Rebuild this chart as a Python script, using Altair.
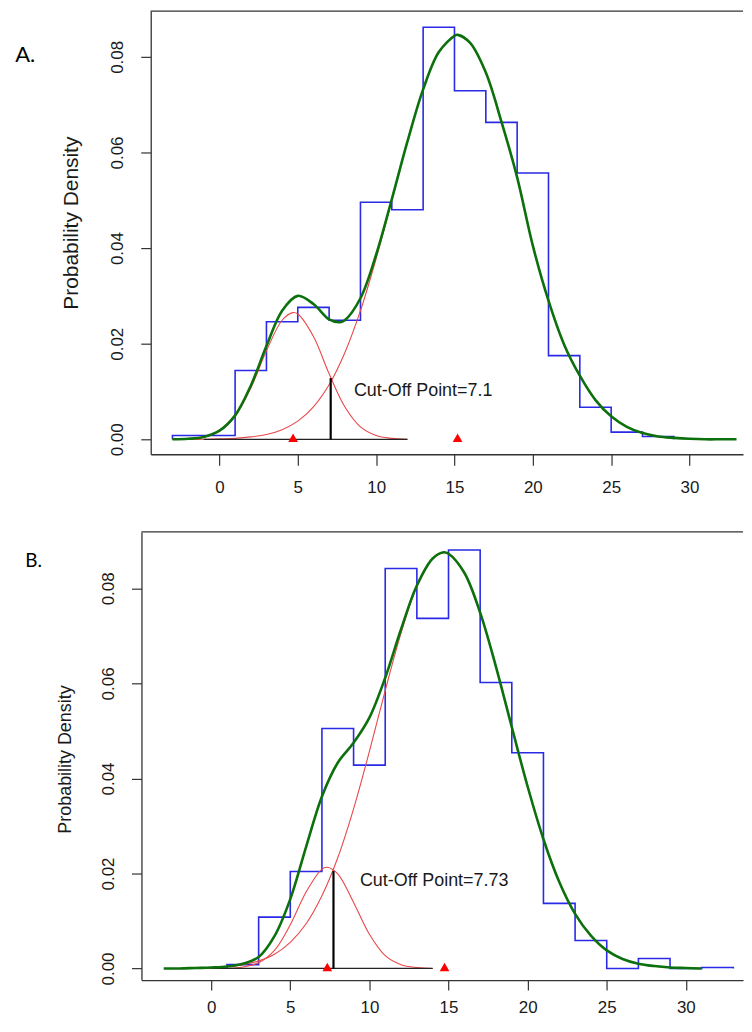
import altair as alt
import pandas as pd

FONT = "Liberation Sans"
X_TICKS = [0, 5, 10, 15, 20, 25, 30]
Y_TICKS = [0.0, 0.02, 0.04, 0.06, 0.08]

# ---------------- Panel A ----------------
A_edges = [-3, -1, 1, 3, 5, 7, 9, 11, 13, 15, 17, 19, 21, 23, 25, 27, 29]
A_hist = [0.0008, 0.0008, 0.0144, 0.0246, 0.0276, 0.0249, 0.0496, 0.0480,
          0.0862, 0.0729, 0.0663, 0.0557, 0.0175, 0.0067, 0.0015, 0.0006]
A_c1_x = [-3, -2, -1, 0, 1, 2, 3, 4, 4.7, 5, 6, 7, 8, 9, 10, 11, 12]
A_c1_y = [0.0000, 0.0001, 0.0005, 0.0017, 0.0048, 0.0107, 0.0185, 0.0249, 0.0265,
          0.0262, 0.0215, 0.0137, 0.0068, 0.0026, 0.0008, 0.0002, 0.0000]
A_c2_x = [-3, -2, -1, 0, 1, 2, 3, 4, 5, 6, 7, 8, 9, 10, 11, 12, 13, 14, 15, 15.2,
          16, 17, 18, 19, 20, 21, 22, 23, 24, 25, 26, 27, 28, 29, 30, 31]
A_c2_y = [0.0000, 0.0000, 0.0000, 0.0001, 0.0002, 0.0005, 0.0010, 0.0020, 0.0038,
          0.0068, 0.0114, 0.0181, 0.0269, 0.0378, 0.0500, 0.0623, 0.0732, 0.0810,
          0.0844, 0.0846, 0.0829, 0.0767, 0.0664, 0.0548, 0.0405, 0.0290, 0.0198,
          0.0133, 0.0082, 0.0048, 0.0026, 0.0013, 0.0006, 0.0003, 0.0001, 0.0000]
A_mix_x = [-3, -2, -1, 0, 1, 2, 3, 4, 5, 6, 7, 7.7, 8, 9, 10, 11, 12, 13, 14, 15,
           15.2, 16, 17, 18, 19, 20, 21, 22, 23, 24, 25, 26, 27, 28, 29, 30, 31, 32, 33]
A_mix_y = [0.0000, 0.0001, 0.0005, 0.0018, 0.0050, 0.0112, 0.0195, 0.0269, 0.0300,
           0.0283, 0.0251, 0.0245, 0.0249, 0.0295, 0.0386, 0.0502, 0.0623, 0.0732,
           0.0810, 0.0844, 0.0846, 0.0829, 0.0767, 0.0664, 0.0548, 0.0405, 0.0290,
           0.0198, 0.0133, 0.0082, 0.0048, 0.0026, 0.0013, 0.0006, 0.0003, 0.0001,
           0.0000, 0.0000, 0.0000]
A_cut = [7.1, 0.0128]
A_means = [4.7, 15.2]
A_base = [-1, 12]
A_label = ["Cut-Off Point=7.1", 8.58, 0.0091]

# ---------------- Panel B ----------------
B_edges = [1, 3, 5, 7, 9, 11, 13, 15, 17, 19, 21, 23, 25, 27, 29, 31, 33]
B_hist = [0.0008, 0.0108, 0.0204, 0.0505, 0.0428, 0.0842, 0.0737, 0.0881,
          0.0602, 0.0454, 0.0137, 0.0059, 0.0000, 0.0021, 0.0000, 0.0002]
B_c1_x = [-1, 0, 1, 2, 3, 4, 5, 6, 7, 7.34, 8, 9, 10, 11, 12, 13, 14]
B_c1_y = [0.0000, 0.0000, 0.0000, 0.0003, 0.0012, 0.0038, 0.0092, 0.0161, 0.0209,
          0.0213, 0.0199, 0.0139, 0.0072, 0.0027, 0.0008, 0.0002, 0.0000]
B_c2_x = [-1, 0, 1, 2, 3, 4, 5, 6, 7, 8, 9, 10, 11, 12, 13, 14, 14.7, 15, 16, 17,
          18, 19, 20, 21, 22, 23, 24, 25, 26, 27, 28, 29, 30, 31]
B_c2_y = [0.0001, 0.0002, 0.0004, 0.0008, 0.0016, 0.0030, 0.0055, 0.0094, 0.0153,
          0.0233, 0.0336, 0.0457, 0.0585, 0.0706, 0.0804, 0.0863, 0.0875, 0.0873,
          0.0833, 0.0749, 0.0635, 0.0508, 0.0383, 0.0272, 0.0182, 0.0115, 0.0069,
          0.0038, 0.0020, 0.0010, 0.0005, 0.0002, 0.0001, 0.0000]
B_mix_x = [-3, -2, -1, 0, 1, 2, 3, 4, 5, 6, 7, 8, 9, 10, 11, 12, 13, 14, 14.7, 15,
           16, 17, 18, 19, 20, 21, 22, 23, 24, 25, 26, 27, 28, 29, 30, 31]
B_mix_y = [0.0000, 0.0000, 0.0001, 0.0002, 0.0004, 0.0010, 0.0024, 0.0068, 0.0146,
           0.0256, 0.0362, 0.0433, 0.0475, 0.0528, 0.0612, 0.0714, 0.0806, 0.0863,
           0.0876, 0.0873, 0.0833, 0.0749, 0.0635, 0.0508, 0.0383, 0.0272, 0.0182,
           0.0115, 0.0069, 0.0038, 0.0020, 0.0010, 0.0005, 0.0002, 0.0001, 0.0000]
B_cut = [7.73, 0.0205]
B_means = [7.34, 14.75]
B_base = [0, 14]
B_label = ["Cut-Off Point=7.73", 9.40, 0.0173]


def line_df(xs, ys):
    return pd.DataFrame({"x": xs, "y": ys, "i": list(range(len(xs)))})


def hist_df(edges, heights):
    xs = [edges[0]] + edges[:-1] + [edges[-1]]
    ys = [0.0] + heights + [0.0]
    return line_df(xs, ys)


def panel(edges, hist, c1x, c1y, c2x, c2y, mx, my, cut, means, base, label,
          tag, tag_size, tag_xy, xdom, ydom, box_left, width, height, yoff, title_size,
          title_y, title_pad, dash, x_tick, x_pad):
    xs = alt.Scale(domain=xdom, nice=False, zero=False)
    ys = alt.Scale(domain=ydom, nice=False, zero=False)

    bkw = dict(values=X_TICKS, format="d", tickSize=x_tick, labelPadding=x_pad,
               labelFontSize=17, title=None, orient="bottom")
    if dash:
        bkw["domainDash"] = dash
    ykw = dict(values=Y_TICKS, format=".2f", labelAngle=270, labelAlign="center",
               labelBaseline="bottom", tickSize=10, labelPadding=14, labelFontSize=17,
               title="Probability Density", titleFontSize=title_size,
               titleFontWeight="normal", titlePadding=title_pad, offset=yoff,
               orient="left", titleY=title_y)
    XA = alt.Axis(**bkw)
    YA = alt.Axis(**ykw)

    def X(field):
        return alt.X(field, scale=xs, axis=XA)

    def Y(field):
        return alt.Y(field, scale=ys, axis=YA)

    hist_layer = alt.Chart(hist_df(edges, hist)).mark_line(
        interpolate="step-after", color="#2a2ae6", strokeWidth=1.6
    ).encode(x=X("x:Q"), y=Y("y:Q"), order="i:Q")

    def curve(xv, yv, color, width_):
        return alt.Chart(line_df(xv, yv)).mark_line(
            interpolate="catmull-rom", color=color, strokeWidth=width_
        ).encode(x=X("x:Q"), y=Y("y:Q"), order="i:Q")

    red1 = curve(c1x, c1y, "#e8484a", 1.1)
    red2 = curve(c2x, c2y, "#e8484a", 1.1)
    green = curve(mx, my, "#0c700c", 2.6)

    base_layer = alt.Chart(pd.DataFrame({"x0": [base[0]], "x1": [base[1]], "y": [0.0]})).mark_rule(
        color="#222222", strokeWidth=1.2
    ).encode(x=X("x0:Q"), x2="x1:Q", y=Y("y:Q"))

    top_layer = alt.Chart(pd.DataFrame({"x0": [box_left], "x1": [xdom[1]], "y": [ydom[1]]})).mark_rule(
        color="#333333", strokeWidth=1.3
    ).encode(x=X("x0:Q"), x2="x1:Q", y=Y("y:Q"))

    cut_layer = alt.Chart(pd.DataFrame({"x": [cut[0]], "y0": [0.0], "y1": [cut[1]]})).mark_rule(
        color="black", strokeWidth=2.2
    ).encode(x=X("x:Q"), y=Y("y0:Q"), y2="y1:Q")

    tri = alt.Chart(pd.DataFrame({"x": means, "y": [0.0] * len(means)})).mark_point(
        shape="triangle-up", filled=True, size=95, color="#ff0000", opacity=1, yOffset=-1.5
    ).encode(x=X("x:Q"), y=Y("y:Q"))

    txt = alt.Chart(pd.DataFrame({"t": [label[0]], "x": [label[1]], "y": [label[2]]})).mark_text(
        align="left", baseline="alphabetic", fontSize=18, font=FONT, color="#1a1a1a"
    ).encode(x=X("x:Q"), y=Y("y:Q"), text="t:N")

    tag_layer = alt.Chart(pd.DataFrame({"t": [tag]})).mark_text(
        align="left", baseline="alphabetic", fontSize=tag_size, font="Lato", color="black"
    ).encode(x=alt.value(tag_xy[0]), y=alt.value(tag_xy[1]), text="t:N")

    return alt.layer(hist_layer, red1, red2, base_layer, green, cut_layer, tri, txt,
                     top_layer, tag_layer).properties(width=width, height=height)


# Panel A: 15.733 px per unit; 0.00 at 438 px, 96 px per 0.02
panel_a = panel(A_edges, A_hist, A_c1_x, A_c1_y, A_c2_x, A_c2_y, A_mix_x, A_mix_y,
                A_cut, A_means, A_base, A_label, "A.", 22, [-126.7, 51.3],
                [-4.977, 33.414], [-0.003125, 0.08958], -4.39, 604, 445, -9.3, 21, 212.5,
                28, [0, 9.3, 2000], 11, 14)
# Panel B: 15.887 px per unit; 0.00 at 971.3 px, 95.4 px per 0.02
panel_b = panel(B_edges, B_hist, B_c1_x, B_c1_y, B_c2_x, B_c2_y, B_mix_x, B_mix_y,
                B_cut, B_means, B_base, B_label, "B.", 19, [-116.7, 35.3],
                [-4.406, 33.612], [-0.00245, 0.09189], -4.406, 604, 450, 0, 18, 228,
                25, None, 10, 10)

chart = alt.vconcat(panel_a, panel_b, spacing=36, padding={"left": 7, "top": 0, "right": 0, "bottom": 0}).configure(
    font=FONT
).configure_view(stroke=None).configure_axis(
    grid=False, domainColor="#333333", domainWidth=1.3, tickColor="#333333",
    tickWidth=1.2, labelColor="#1a1a1a", titleColor="#1a1a1a", labelFont=FONT, titleFont=FONT
)

chart.save("out.html", embed_options={"renderer": "svg", "actions": False})
